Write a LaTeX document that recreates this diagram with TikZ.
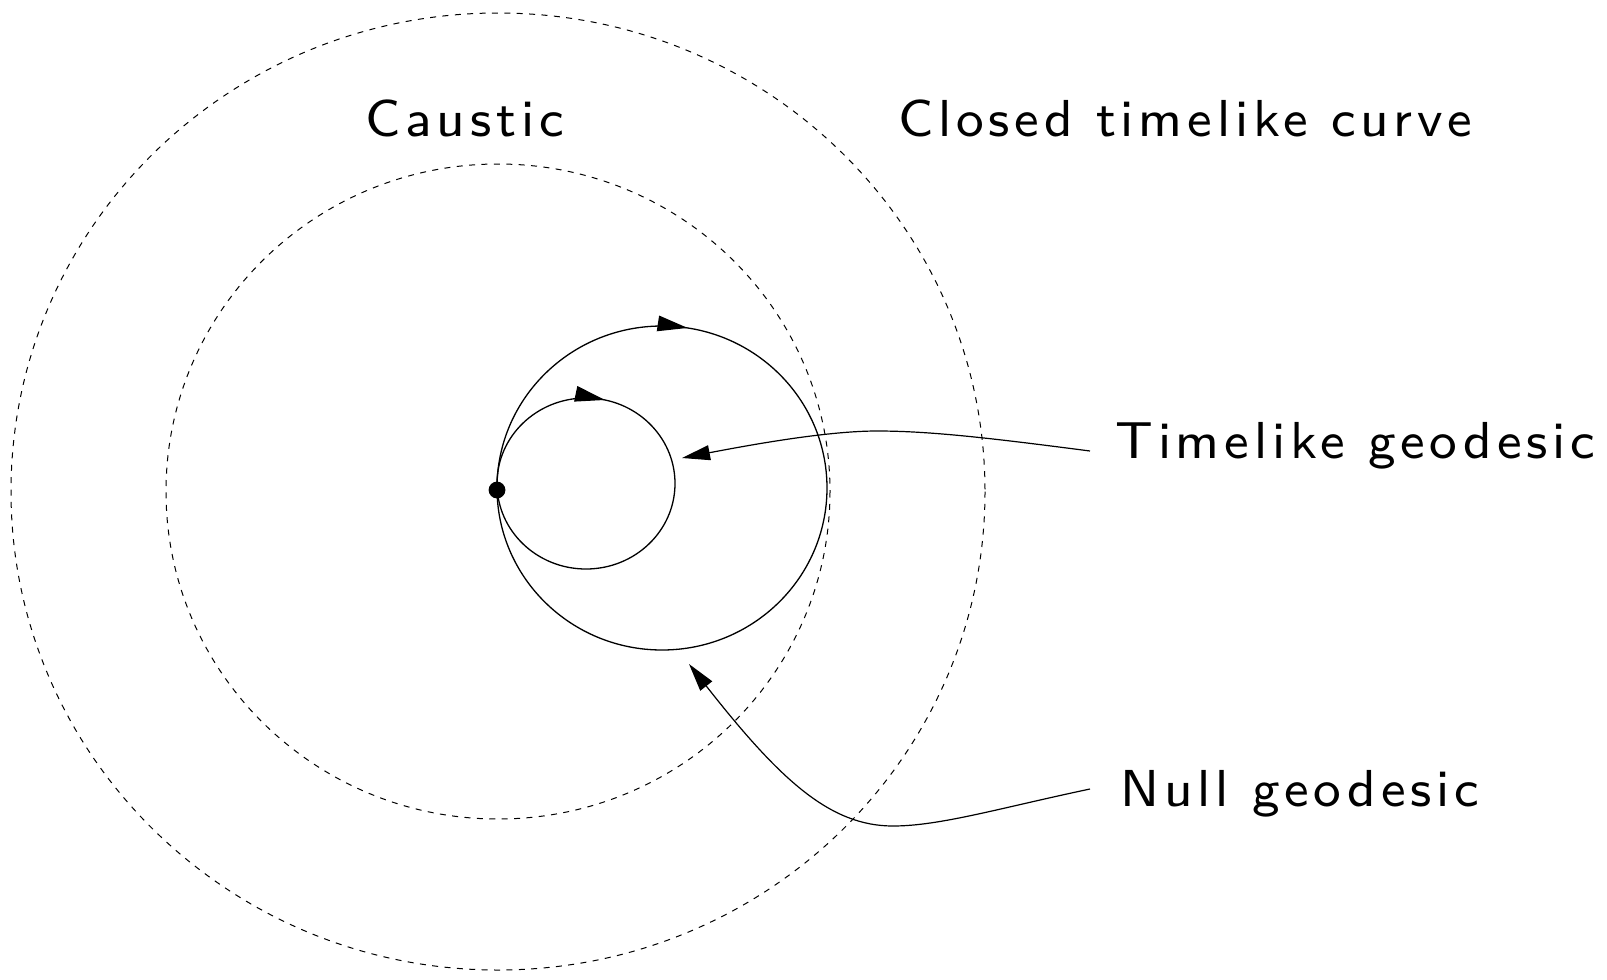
\documentclass[tikz,border=0pt]{standalone}
\usepackage{fontspec}
\newfontfamily\lab[LetterSpace=9.3]{lmsans8-regular.otf}
\usetikzlibrary{arrows.meta,decorations.markings}
\begin{document}
\begin{tikzpicture}[x=0.5pt,y=-0.5pt,
  dashcirc/.style={draw, line width=0.5pt, dash pattern=on 3pt off 3.2pt},
  orbit/.style={draw, line width=0.65pt},
  lbl/.style={anchor=base west, inner sep=0pt, font=\fontsize{26pt}{30pt}\lab},
  pointer/.style={draw, line width=0.6pt, -{Triangle[length=14pt,width=7.5pt]}},
  midarrow/.style={postaction={decorate}, decoration={markings, mark=at position #1 with {\arrow{Triangle[length=15pt,width=7.8pt]}}}}
]
\useasboundingbox (0,0) rectangle (1607,980);
% dashed circles
\draw[dashcirc] (498,491.5) ellipse [x radius=487, y radius=478.5];
\draw[dashcirc] (498,491.5) ellipse [x radius=332, y radius=327.5];
% geodesics
\draw[orbit, midarrow=0.775] (662,488) ellipse [x radius=165, y radius=162];
\draw[orbit, midarrow=0.785] (586,483.5) ellipse [x radius=89, y radius=85.5];
\node[circle, fill, inner sep=0pt, minimum size=8.4pt] (src) at (497,490) {};
% labels
\node[lbl] (caustic) at (365,136) {Caustic};
\node[lbl] (ctc) at (898,136) {Closed timelike curve};
\node[lbl] (tg) at (1115,458) {Timelike geodesic};
\node[lbl] (ng) at (1120,806) {Null geodesic};
% pointers
\coordinate (tgs) at (1090,451);
\coordinate (tgp) at (877,431);
\coordinate (tgt) at (682,458);
\draw[pointer] (tgs) .. controls (990,438) and (930,431) .. (tgp) .. controls (830,431) and (760,443) .. (tgt);
\coordinate (ngs) at (1090,789);
\coordinate (ngb) at (893,826);
\coordinate (ngt) at (689,664);
\draw[pointer] (ngs) .. controls (1000,808) and (940,826) .. (ngb) .. controls (830,826) and (780,780) .. (ngt);
\end{tikzpicture}
\end{document}
